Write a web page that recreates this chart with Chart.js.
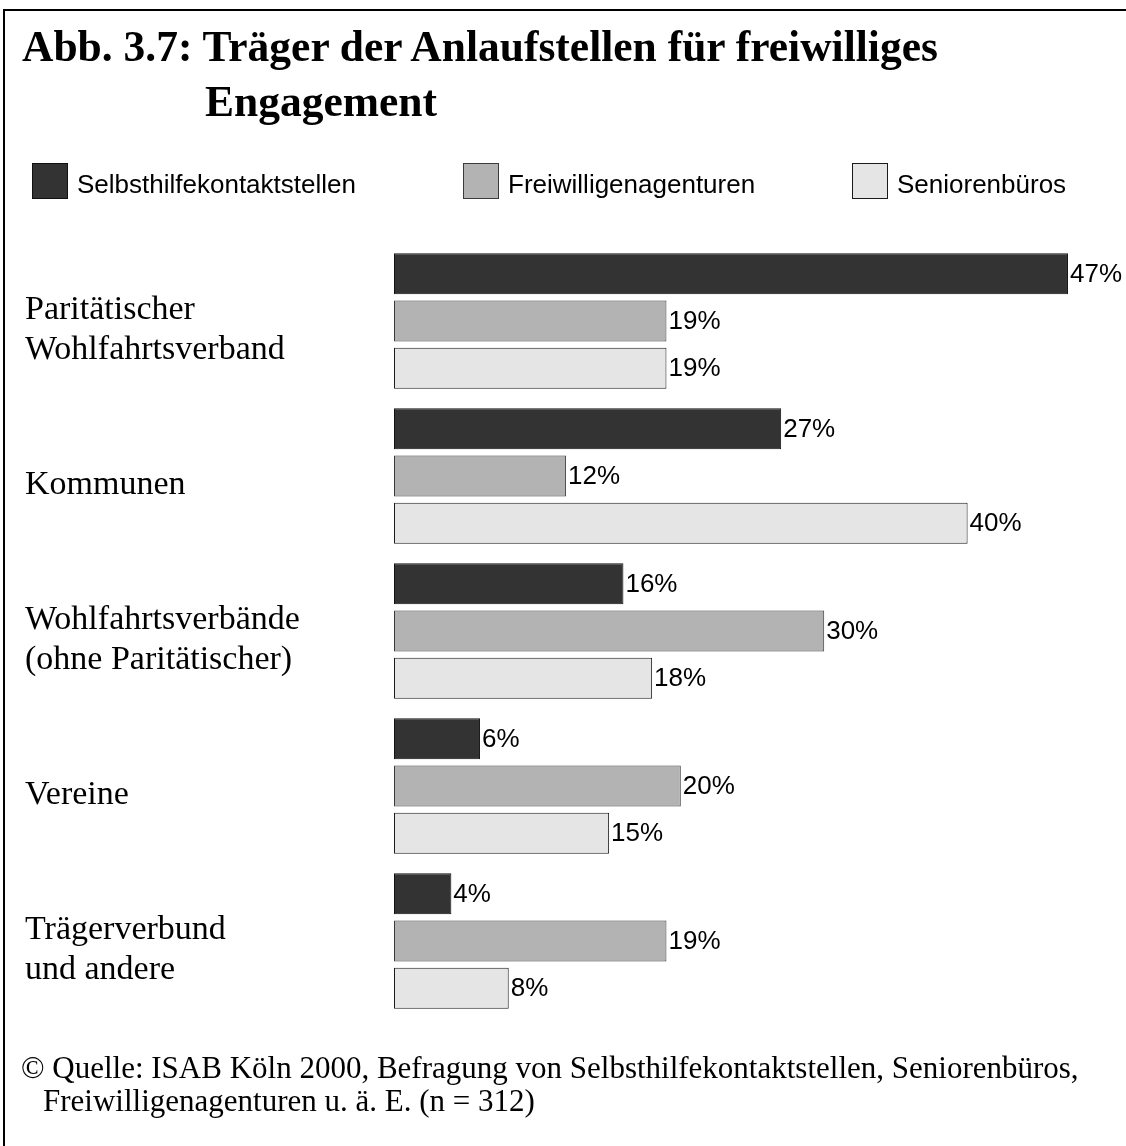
<!DOCTYPE html>
<html>
<head>
<meta charset="utf-8">
<script src="https://cdn.jsdelivr.net/npm/chart.js@4.4.0/dist/chart.umd.min.js"></script>
<style>
  body { margin: 0; background: #fff; }
  #page { position: relative; width: 1126px; height: 1146px; overflow: hidden; background: #fff; }
  #frame { position: absolute; left: 3px; top: 9px; right: -10px; bottom: -10px; border-top: 2px solid #000; border-left: 2px solid #000; }
  #chart { position: absolute; left: 0; top: 0; }
  #title { position: absolute; left: 22px; top: 19px; font: bold 43.5px 'Liberation Serif', 'Times New Roman', serif; line-height: 55px; color: #000; white-space: nowrap; }
  #title .l2 { padding-left: 183px; }
  .lg-box { position: absolute; top: 163px; width: 36px; height: 36px; box-sizing: border-box; border: 1px solid #222; }
  .lg-text { position: absolute; top: 169px; font: 26px 'Liberation Sans', Arial, sans-serif; line-height: 30px; color: #000; white-space: nowrap; }
  #source { position: absolute; left: 21px; top: 1051px; font: 31px 'Liberation Serif', 'Times New Roman', serif; line-height: 33px; color: #000; white-space: nowrap; }
  #source .l2 { padding-left: 22px; }
</style>
</head>
<body>
<div id="page">
  <canvas id="chart" width="1126" height="1146"></canvas>
  <div id="frame"></div>
  <div id="title"><div>Abb. 3.7: Träger der Anlaufstellen für freiwilliges</div><div class="l2">Engagement</div></div>
  <div id="legend"></div>
  <div id="source"><div>© Quelle: ISAB Köln 2000, Befragung von Selbsthilfekontaktstellen, Seniorenbüros,</div><div class="l2">Freiwilligenagenturen u. ä. E. (n = 312)</div></div>
</div>
<script>
const categories = [
  ['Paritätischer', 'Wohlfahrtsverband'],
  'Kommunen',
  ['Wohlfahrtsverbände', '(ohne Paritätischer)'],
  'Vereine',
  ['Trägerverbund', 'und andere']
];
const seriesNames = ['Selbsthilfekontaktstellen', 'Freiwilligenagenturen', 'Seniorenbüros'];
const selbsthilfe = [47, 27, 16, 6, 4];
const freiwillige = [19, 12, 30, 20, 19];
const senioren = [19, 40, 18, 15, 8];

const fills = ['#333333', '#b3b3b3', '#e5e5e5'];
const edges = ['#111111', '#3a3a3a', '#1a1a1a'];
const seriesValues = [selbsthilfe, freiwillige, senioren];

// legend (html, built from the series)
const legendLeft = [32, 463, 852];
const legendEl = document.getElementById('legend');
seriesNames.forEach((name, i) => {
  const box = document.createElement('div');
  box.className = 'lg-box';
  box.style.left = legendLeft[i] + 'px';
  box.style.background = fills[i];
  box.style.borderColor = edges[i];
  legendEl.appendChild(box);
  const txt = document.createElement('div');
  txt.className = 'lg-text';
  txt.style.left = (legendLeft[i] + 45) + 'px';
  txt.textContent = name;
  legendEl.appendChild(txt);
});

// percent labels at the end of each bar
const valueLabels = {
  id: 'valueLabels',
  afterDatasetsDraw(chart) {
    const ctx = chart.ctx;
    ctx.save();
    ctx.font = "26px 'Liberation Sans', Arial, sans-serif";
    ctx.fillStyle = '#000';
    ctx.textBaseline = 'middle';
    ctx.textAlign = 'left';
    chart.data.datasets.forEach((ds, i) => {
      chart.getDatasetMeta(i).data.forEach((bar, j) => {
        ctx.fillText(ds.data[j] + '%', bar.x + 2, bar.y + 1);
      });
    });
    ctx.restore();
  }
};

new Chart(document.getElementById('chart'), {
  type: 'bar',
  data: {
    labels: categories,
    datasets: seriesNames.map((name, i) => ({
      label: name,
      data: seriesValues[i],
      backgroundColor: fills[i],
      borderColor: edges[i],
      borderWidth: 1,
      borderSkipped: false,
      categoryPercentage: 0.915,
      barPercentage: 0.867
    }))
  },
  options: {
    indexAxis: 'y',
    responsive: false,
    animation: false,
    layout: { padding: { left: 25, right: 15, top: 243.5, bottom: 127.5 } },
    plugins: {
      legend: { display: false },
      tooltip: { enabled: false }
    },
    scales: {
      x: { display: false, min: 0, max: 50 },
      y: {
        grid: { display: false, drawTicks: false },
        border: { display: false },
        ticks: {
          color: '#000',
          font: { family: "'Liberation Serif', 'Times New Roman', serif", size: 34, lineHeight: 1.2 },
          crossAlign: 'far',
          labelOffset: 9,
          padding: 0
        },
        afterFit: (scale) => { scale.width = 369; }
      }
    }
  },
  plugins: [valueLabels]
});
</script>
</body>
</html>
